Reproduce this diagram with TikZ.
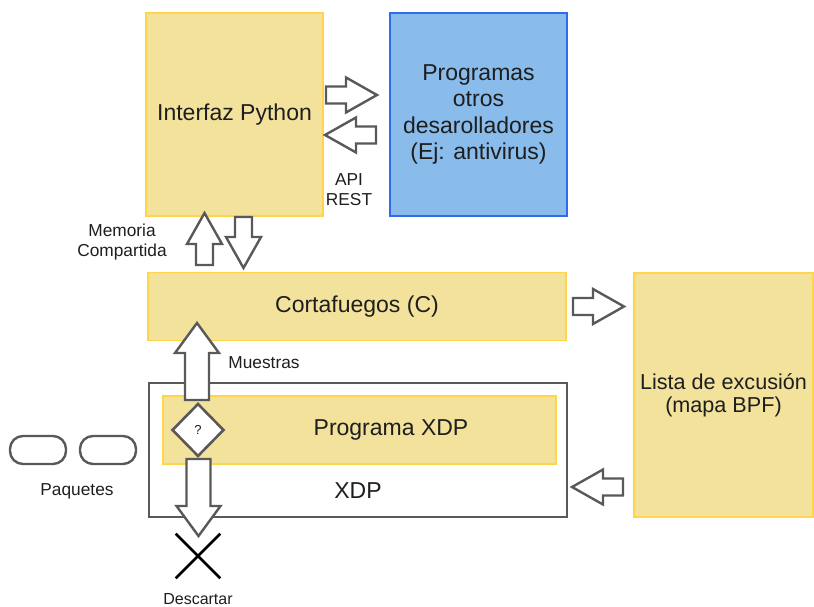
\documentclass[tikz,border=0pt]{standalone}
\usepackage{fontspec}
\setmainfont{Liberation Sans}
\usetikzlibrary{calc,shapes.geometric,shapes.misc}

\definecolor{amarillo}{HTML}{F3E29B}
\definecolor{amarilloborde}{HTML}{FFD54A}
\definecolor{azul}{HTML}{89BBEB}
\definecolor{azulborde}{HTML}{2F6BEF}
\definecolor{gris}{HTML}{595959}
\definecolor{texto}{HTML}{1E1E1E}

\newcommand{\grande}{\fontsize{23}{26.5}\selectfont}
\newcommand{\chica}{\fontsize{17.3}{20}\selectfont}

\tikzset{
  caja/.style={draw=amarilloborde, fill=amarillo, line width=1.8pt,
    inner sep=0pt, align=center, font=\grande},
  cajaazul/.style={caja, draw=azulborde, fill=azul},
  etiqueta/.style={align=center, font=\chica, inner sep=0pt},
  paquete/.style={draw=gris, line width=2.4pt, rounded corners=13pt,
    minimum width=56pt, minimum height=28pt},
  decision/.style={diamond, draw=gris, fill=white, line width=2.6pt,
    minimum width=52pt, minimum height=53pt, inner sep=0pt,
    font=\fontsize{13}{15}\selectfont},
  % flecha hueca: medio cuerpo, media cabeza, largo de la cabeza
  blockarrow/.style n args={3}{draw=gris, fill=white, line width=2.4pt,
    line join=miter,
    to path={($(\tikztostart)!#1!90:(\tikztotarget)$)
      -- ($($(\tikztotarget)!#3!(\tikztostart)$)!#1!90:(\tikztotarget)$)
      -- ($($(\tikztotarget)!#3!(\tikztostart)$)!#2!90:(\tikztotarget)$)
      -- (\tikztotarget)
      -- ($($(\tikztotarget)!#3!(\tikztostart)$)!#2!-90:(\tikztotarget)$)
      -- ($($(\tikztotarget)!#3!(\tikztostart)$)!#1!-90:(\tikztotarget)$)
      -- ($(\tikztostart)!#1!-90:(\tikztotarget)$)
      -- cycle}},
  flecha/.style={blockarrow={8.5pt}{17.5pt}{31pt}},
  flechagrande/.style={blockarrow={12pt}{22pt}{30pt}},
}

\begin{document}
\begin{tikzpicture}[x=1pt,y=-1pt,text=texto]
\useasboundingbox (0,0) rectangle (814,607);
% ---------- cajas ----------
\node[caja, minimum width=177pt, minimum height=203pt] (python) at (234.5,114.5) {Interfaz Python};
\node[cajaazul, minimum width=177pt, minimum height=203pt] (otros) at (478.5,114.5)
  {Programas\\otros\\desarolladores\\(Ej: antivirus)};
\node[caja, minimum width=418pt, minimum height=68pt] (cortafuegos) at (357,306.5) {Cortafuegos (C)};
\node[caja, minimum width=179pt, minimum height=244pt, font=\fontsize{21.6}{23}\selectfont]
  (lista) at (723.5,395) {Lista de excusión\\(mapa BPF)};
% caja XDP con el programa dentro
\node[draw=gris, line width=2.8pt, fill=white, minimum width=418pt, minimum height=134pt] (xdp) at (358,450) {};
\node[caja, minimum width=393pt, minimum height=68pt] (progxdp) at (359.5,430) {};
\node[font=\grande, inner sep=0pt] (progxdplabel) at (391,430) {Programa XDP};
\node[font=\grande, inner sep=0pt] (xdplabel) at (358,491) {XDP};
% ---------- paquetes ----------
\node[paquete] (paq1) at (38,450) {};
\node[paquete] (paq2) at (108,450) {};
% ---------- flechas ----------
\coordinate (restida1) at (326,95);   \coordinate (restida2) at (377,95);
\coordinate (restvuelta1) at (376,135); \coordinate (restvuelta2) at (325,135);
\coordinate (memsube1) at (204.5,265); \coordinate (memsube2) at (204.5,213);
\coordinate (membaja1) at (243.5,217); \coordinate (membaja2) at (243.5,268);
\coordinate (alista1) at (573,306.5);  \coordinate (alista2) at (624,306.5);
\coordinate (axdp1) at (623,487);      \coordinate (axdp2) at (572,487);
\coordinate (muestra1) at (197,400);   \coordinate (muestra2) at (197,323);
\coordinate (descarte1) at (198.5,459); \coordinate (descarte2) at (198.5,536);
\draw[flecha] (restida1) to (restida2);
\draw[flecha] (restvuelta1) to (restvuelta2);
\draw[flecha] (memsube1) to (memsube2);
\draw[flecha] (membaja1) to (membaja2);
\draw[flecha] (alista1) to (alista2);
\draw[flecha] (axdp1) to (axdp2);
\draw[flechagrande] (muestra1) to (muestra2);
\draw[flechagrande] (descarte1) to (descarte2);
% decision y descarte
\node[decision] (decision) at (198,430) {?};
\node[cross out, draw=black, line width=2.6pt, minimum size=42pt, inner sep=0pt] (cruz) at (198,556) {};
% ---------- etiquetas ----------
\node[etiqueta] (api) at (349,190) {API\\REST};
\node[etiqueta] (memoria) at (122,242) {Memoria\\Compartida};
\node[etiqueta] (muestras) at (264,363) {Muestras};
\node[etiqueta] (paquetes) at (77,491) {Paquetes};
\node[etiqueta, font=\fontsize{16}{18}\selectfont] (descartar) at (198,599) {Descartar};
\end{tikzpicture}
\end{document}
